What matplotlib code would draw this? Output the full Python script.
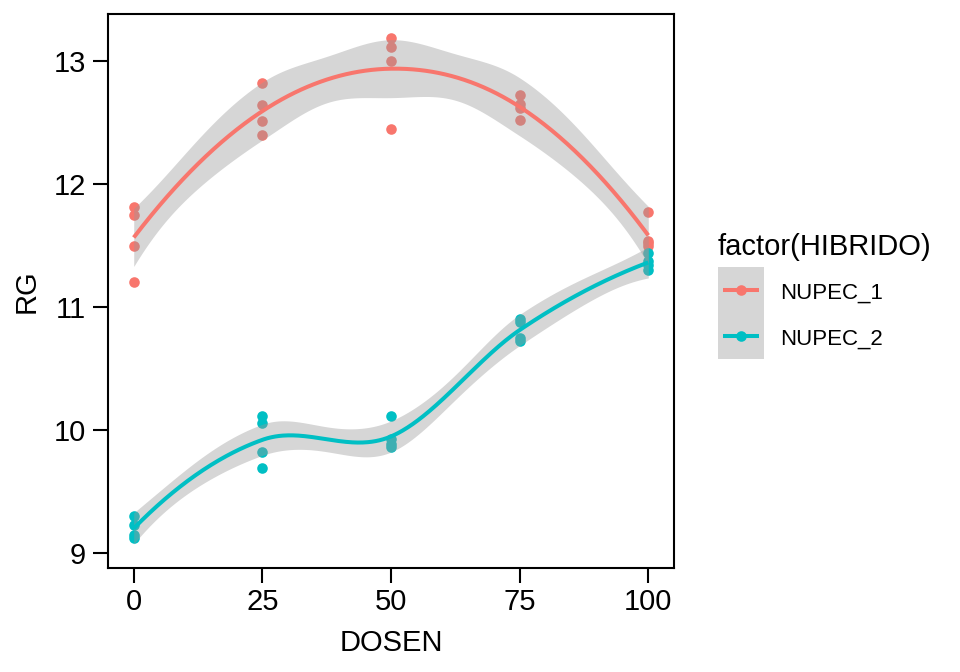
import numpy as np
import matplotlib
matplotlib.use("Agg")
import matplotlib.pyplot as plt
from matplotlib.patches import Rectangle

# ---- data ----
dose = [0, 25, 50, 75, 100]
nupec1 = {
    0: [11.81, 11.75, 11.50, 11.20],
    25: [12.82, 12.64, 12.51, 12.40],
    50: [13.19, 13.11, 13.00, 12.45],
    75: [12.72, 12.65, 12.62, 12.52],
    100: [11.77, 11.54, 11.52, 11.50],
}
nupec2 = {
    0: [9.30, 9.23, 9.15, 9.12],
    25: [10.11, 10.06, 9.82, 9.69],
    50: [10.11, 9.93, 9.89, 9.86],
    75: [10.90, 10.88, 10.75, 10.72],
    100: [11.44, 11.37, 11.34, 11.30],
}
series_names = ["NUPEC_1", "NUPEC_2"]
colors = ["#F8766D", "#00BFC4"]
yticks = [9, 10, 11, 12, 13]
xticks = [0, 25, 50, 75, 100]
legend_title = "factor(HIBRIDO)"


def flatten(d):
    xs, ys = [], []
    for k in dose:
        for v in d[k]:
            xs.append(k)
            ys.append(v)
    return np.array(xs, float), np.array(ys, float)


SPAN = 0.75


def local_rows(x, x0, span=SPAN):
    """operator rows for value and slope of a local quadratic fit at x0"""
    n = len(x)
    q = int(np.floor(n * span))
    d = np.abs(x - x0)
    h = np.sort(d)[q - 1]
    u = np.clip(d / h, 0, 1)
    w = (1 - u ** 3) ** 3
    X = np.column_stack([np.ones(n), x - x0, (x - x0) ** 2])
    W = np.diag(w)
    A = X.T @ W @ X
    l = np.linalg.pinv(A) @ X.T @ W
    return l[0], l[1]


def kd_vertices(x, span=SPAN, cell=0.2):
    xs = np.sort(x)
    n = len(xs)
    fc = int(np.floor(n * span * cell + 1e-9))
    lo, hi = xs.min(), xs.max()
    mu = 0.005 * (hi - lo)
    verts = {lo - mu, hi + mu}

    def split(l, u, vlo, vhi):  # 1-based inclusive indices
        if u - l + 1 <= fc:
            return
        m = (l + u) // 2
        offset = 0
        while not ((m + offset) >= u or (m + offset) < l):
            if xs[m + offset - 1] == xs[m + offset]:
                offset = -offset
                if offset >= 0:
                    offset += 1
            else:
                m = m + offset
                break
        t = xs[m - 1]
        if t == vlo or t == vhi:
            return
        verts.add(t)
        split(l, m, vlo, t)
        split(m + 1, u, t, vhi)

    split(1, n, lo - mu, hi + mu)
    return np.array(sorted(verts))


def interp_rows(verts, vrows, srows, x0):
    k = np.searchsorted(verts, x0, side="right") - 1
    k = min(max(k, 0), len(verts) - 2)
    a, b = verts[k], verts[k + 1]
    h = b - a
    t = (x0 - a) / h
    h00 = 2 * t ** 3 - 3 * t ** 2 + 1
    h10 = t ** 3 - 2 * t ** 2 + t
    h01 = -2 * t ** 3 + 3 * t ** 2
    h11 = t ** 3 - t ** 2
    return h00 * vrows[k] + h10 * h * srows[k] + h01 * vrows[k + 1] + h11 * h * srows[k + 1]


def t_quantile(p, df):
    from math import lgamma, pi, exp
    grid = np.linspace(0, 60, 200001)
    c = exp(lgamma((df + 1) / 2) - lgamma(df / 2)) / np.sqrt(df * pi)
    pdf = c * (1 + grid ** 2 / df) ** (-(df + 1) / 2)
    cdf = 0.5 + np.concatenate([[0], np.cumsum((pdf[1:] + pdf[:-1]) / 2 * np.diff(grid))])
    return float(np.interp(p, cdf, grid))


def loess_fit(x, y, xnew):
    n = len(x)
    verts = kd_vertices(x)
    vr, sr = [], []
    for v in verts:
        a, b = local_rows(x, v)
        vr.append(a)
        sr.append(b)
    vr = np.array(vr)
    sr = np.array(sr)
    L = np.array([interp_rows(verts, vr, sr, xi) for xi in x])
    IL = np.eye(n) - L
    M = IL.T @ IL
    d1 = np.trace(M)
    d2 = np.trace(M @ M)
    rss = np.sum((y - L @ y) ** 2)
    sigma = np.sqrt(rss / d1)
    df = d1 ** 2 / d2
    tq = t_quantile(0.975, df)
    rows = np.array([interp_rows(verts, vr, sr, x0) for x0 in xnew])
    fit = rows @ y
    se = sigma * np.sqrt(np.sum(rows ** 2, axis=1))
    return fit, fit - tq * se, fit + tq * se


plt.rcParams["font.family"] = ["Liberation Sans", "DejaVu Sans"]
fig = plt.figure(figsize=(9.6, 6.72), dpi=100)
ax = fig.add_axes([108 / 960, 1 - 568 / 672, (674 - 108) / 960, (568 - 14) / 672])

xnew = np.linspace(0, 100, 401)
for d, col in zip([nupec1, nupec2], colors):
    x, y = flatten(d)
    ax.scatter(x, y, s=58, color=col, zorder=2, linewidths=0)
    fit, lo, hi = loess_fit(x, y, xnew)
    ax.fill_between(xnew, lo, hi, color="#999999", alpha=0.4, linewidth=0, zorder=3)
    ax.plot(xnew, fit, color=col, linewidth=2.9, zorder=4, solid_capstyle="butt")

ax.set_xlim(-5, 105)
ax.set_ylim(9 - 15 / 123, 13 + 47 / 123)
ax.set_xticks(xticks)
ax.set_yticks(yticks)
ax.tick_params(direction="out", length=10.5, width=1.5, labelsize=21, colors="black")
ax.tick_params(axis="y", pad=5.5)
ax.tick_params(axis="x", pad=4)
for s in ax.spines.values():
    s.set_linewidth(1.5)
    s.set_color("black")
ax.set_xlabel("DOSEN", fontsize=21, labelpad=9)
ax.set_ylabel("RG", fontsize=21, labelpad=9.5)

# ---- legend ----
fig.text(718 / 960, 1 - 255 / 672, legend_title, fontsize=21, va="baseline", ha="left")
lax = fig.add_axes([718 / 960, 1 - 359 / 672, 46 / 960, 92 / 672])
lax.set_xlim(0, 1)
lax.set_ylim(0, 2)
lax.axis("off")
lax.add_patch(Rectangle((0, 0), 1, 2, color="#D6D6D6", linewidth=0))
for i, (name, col) in enumerate(zip(series_names, colors)):
    yc = 1.5 - i
    lax.plot([0.1, 0.9], [yc, yc], color=col, linewidth=2.9, solid_capstyle="butt")
    lax.scatter([0.5], [yc], s=58, color=col, linewidths=0, zorder=3)
    fig.text(780 / 960, 1 - (299 + i * 46) / 672, name, fontsize=16, va="baseline", ha="left")

fig.savefig("out.png", dpi=100)
